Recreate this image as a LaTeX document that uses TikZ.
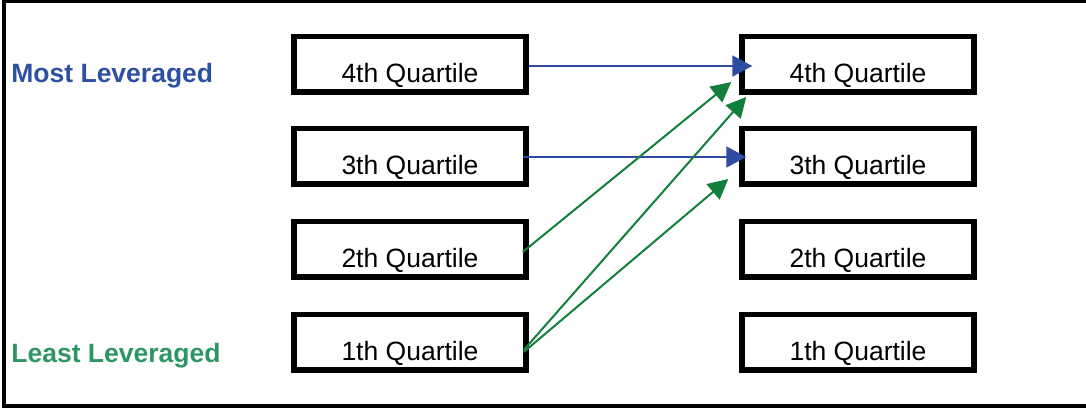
\documentclass[tikz,border=0pt]{standalone}
\usepackage{fontspec}
\setmainfont{Liberation Sans}
\usetikzlibrary{arrows.meta,calc}

\definecolor{mostblue}{RGB}{46,80,160}
\definecolor{leastgreen}{RGB}{46,150,100}
\definecolor{arrowblue}{RGB}{47,77,160}
\definecolor{arrowgreen}{RGB}{18,128,60}

\begin{document}
\begin{tikzpicture}[
						x=0.5pt, y=-0.5pt,
						every node/.style={font=\fontsize{13.25pt}{15pt}\selectfont},
						quartbox/.style={draw, line width=2.75pt, minimum width=116pt, minimum height=27.75pt,
							inner sep=0pt, text height=18pt, text depth=0pt},
						levlabel/.style={anchor=base west, inner sep=0pt, font=\fontsize{13.25pt}{15pt}\selectfont\bfseries},
						bluearrow/.style={draw=arrowblue, line width=1pt, -{Triangle[length=10pt,width=10.5pt]}},
						greenarrow/.style={draw=arrowgreen, line width=1pt, -{Triangle[length=10pt,width=10pt]}}
						]
						
						\useasboundingbox (0,0) rectangle (1086,407);
						
						% outer frame (right side cut off)
						\draw[line width=1.75pt] (1086,1.5) -- (4,1.5) -- (4,406) -- (1086,406);
						
						\node[levlabel, text=mostblue] (most) at (11,82) {Most Leveraged};
						\node[levlabel, text=leastgreen] (least) at (11,362) {Least Leveraged};
						
						% left column
						\node[quartbox] (l4) at (410,64) {4th Quartile};
						\node[quartbox] (l3) at (410,156) {3th Quartile};
						\node[quartbox] (l2) at (410,249) {2th Quartile};
						\node[quartbox] (l1) at (410,342) {1th Quartile};
						
						% right column
						\node[quartbox] (r4) at (858,64) {4th Quartile};
						\node[quartbox] (r3) at (858,156) {3th Quartile};
						\node[quartbox] (r2) at (858,249) {2th Quartile};
						\node[quartbox] (r1) at (858,342) {1th Quartile};
						
						\draw[bluearrow] ($(l4.east)+(0,2)$) -- ($(r4.west)+(13,2)$);
						\draw[bluearrow] ($(l3.east)+(-6,1)$) -- ($(r3.west)+(7,1)$);
						
						\draw[greenarrow] ($(l2.east)+(-6,3)$) -- ($(r4.west)+(-8,18)$);
						\draw[greenarrow] ($(l1.east)+(-5,8)$) -- ($(r4.west)+(7,33)$);
						\draw[greenarrow] ($(l1.east)+(-5,10)$) -- ($(r3.west)+(-11,23)$);
						
					\end{tikzpicture}
\end{document}
